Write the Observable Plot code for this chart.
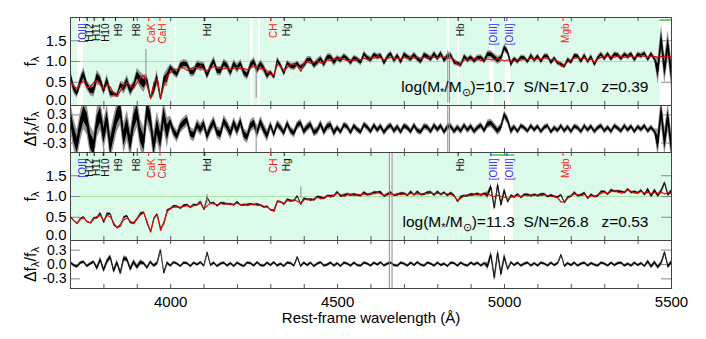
<!DOCTYPE html>
<html><head><meta charset="utf-8">
<script src="https://cdn.jsdelivr.net/npm/d3@7"></script>
<script src="https://cdn.jsdelivr.net/npm/@observablehq/plot@0.6"></script>
<style>
body{margin:0;background:#fff}
#chart{width:706px;height:339px;position:relative;overflow:hidden}
#chart svg{display:block}
</style>
</head><body><div id="chart"></div>
<script>
// ---------------- data ----------------
const lamStart = 3700, lamEnd = 5500, lamStep = 10;
const lam = d3.range(lamStart, lamEnd + 1, lamStep);

// galaxy 1 (z=0.39) best-fit model (red), sampled every 10 A
const model1 = [
0.52,0.40,0.35,0.48,0.52,0.36,0.40,0.50,0.55,0.42,
0.34,0.45,0.38,0.22,0.15,0.30,0.44,0.48,0.42,0.36,
0.50,0.62,0.66,0.40,0.10,0.50,0.58,0.12,0.42,0.66,
0.74,0.80,0.82,0.86,0.84,0.78,0.82,0.86,0.84,0.90,
0.80,0.78,0.84,0.88,0.84,0.86,0.82,0.85,0.80,0.84,
0.86,0.82,0.83,0.80,0.85,0.88,0.86,0.82,0.84,0.76,
0.68,0.70,0.93,0.88,0.78,0.86,0.92,0.96,0.88,0.76,
0.96,1.00,0.95,0.98,1.02,0.96,1.00,1.04,1.02,1.07,
1.05,1.10,1.04,1.02,1.05,1.02,1.06,1.04,1.08,1.05,
1.10,1.08,1.14,1.08,1.04,1.08,1.10,1.07,1.09,1.06,
1.10,1.08,1.12,1.08,1.10,1.07,1.10,1.08,1.12,1.10,
1.09,1.12,1.10,1.08,1.09,1.04,0.92,0.96,1.04,1.06,
1.04,1.07,1.06,1.02,1.05,1.06,1.04,1.05,1.08,1.04,
1.02,1.04,0.98,1.02,1.05,1.03,1.06,1.04,1.08,1.05,
1.07,1.06,1.09,1.06,1.04,1.05,1.00,0.88,0.92,1.00,
1.04,1.08,1.10,1.06,1.08,1.02,1.06,0.98,1.06,1.10,
1.12,1.14,1.12,1.10,1.14,1.12,1.10,1.14,1.12,1.10,
1.12,1.15,1.12,1.10,1.14,1.12,1.10,1.12,1.10,1.13,
1.12];
// galaxy 1 residuals (f_obs - f_model)/f_model
const resid1 = [
0.28,-0.10,-0.35,0.05,0.32,0.18,-0.25,-0.40,0.12,0.30,
-0.15,0.22,-0.38,-0.05,0.26,0.40,-0.20,0.08,-0.32,0.15,
0.35,-0.12,-0.30,0.42,0.20,-0.38,0.05,-0.25,0.30,-0.08,
0.14,-0.06,-0.16,0.04,0.12,0.18,-0.10,-0.14,0.08,-0.02,
0.10,-0.16,0.02,0.14,-0.08,-0.12,0.16,0.05,-0.10,0.12,
-0.04,0.15,-0.12,-0.18,0.06,0.12,-0.08,0.14,-0.02,-0.15,
0.08,-0.12,0.10,0.02,-0.09,0.11,-0.04,-0.10,0.07,0.12,
-0.06,0.03,0.09,-0.08,-0.04,0.10,-0.07,0.05,0.08,-0.09,
0.02,-0.07,0.08,0.04,-0.08,0.06,-0.02,-0.07,0.09,0.03,
-0.06,0.07,-0.03,0.05,-0.08,0.02,0.07,-0.05,0.04,-0.07,
0.06,0.02,-0.06,0.07,-0.04,-0.07,0.05,0.03,-0.06,0.07,
-0.02,0.06,-0.07,0.04,0.05,-0.06,0.03,-0.05,0.07,-0.03,
0.05,-0.06,0.02,0.07,-0.04,0.10,0.12,0.04,-0.05,0.03,
0.30,0.18,-0.05,0.04,-0.06,0.06,0.02,-0.05,0.06,-0.03,
0.05,-0.06,0.03,0.06,-0.07,0.02,-0.04,0.06,-0.05,0.04,
-0.06,0.05,0.02,-0.06,0.06,-0.03,0.05,-0.06,0.02,0.06,
-0.05,0.03,-0.06,0.06,0.01,-0.05,0.06,-0.03,0.05,-0.06,
0.04,-0.02,0.06,-0.05,0.03,-0.06,-0.30,0.38,-0.28,0.25,
-0.35];
// noise level (scatter) per wavelength segment
const noiseEdges1 = [3700,4000,4300,4500,4950,5030,5460,5500];
const noiseAmp1   = [0.32,0.13,0.09,0.07,0.09,0.06,0.30];

// galaxy 2 (z=0.53)
const model2 = [
0.50,0.42,0.36,0.45,0.48,0.40,0.36,0.46,0.52,0.54,
0.42,0.55,0.50,0.36,0.24,0.34,0.44,0.48,0.40,0.34,
0.48,0.56,0.60,0.38,0.14,0.48,0.56,0.18,0.40,0.64,
0.72,0.74,0.75,0.74,0.76,0.78,0.76,0.78,0.80,0.84,
0.70,0.78,0.84,0.82,0.80,0.83,0.81,0.84,0.80,0.82,
0.84,0.80,0.82,0.78,0.80,0.82,0.78,0.80,0.76,0.74,
0.68,0.64,0.90,0.86,0.84,0.90,0.88,0.92,0.88,0.84,
0.92,0.94,0.90,0.95,0.98,0.94,0.98,1.02,0.98,1.04,
1.08,1.04,1.00,1.04,1.06,1.02,1.05,1.04,1.06,1.03,
1.08,1.06,1.10,1.06,1.03,1.04,1.06,1.04,1.07,1.04,
1.06,1.05,1.08,1.05,1.07,1.05,1.08,1.06,1.09,1.06,
1.08,1.06,1.08,1.06,1.05,1.00,0.90,0.96,1.02,1.04,
1.02,1.05,1.03,1.06,1.04,1.07,1.02,1.00,1.03,1.00,
0.98,0.96,0.98,1.00,1.02,1.00,1.03,1.01,1.04,1.02,
1.04,1.02,1.04,1.02,1.00,1.01,0.96,0.86,0.88,0.96,
1.02,1.06,1.04,1.02,1.05,0.98,1.02,1.00,1.04,1.08,
1.10,1.08,1.12,1.14,1.10,1.08,1.12,1.16,1.12,1.08,
1.10,1.12,1.08,1.10,1.06,1.10,1.08,1.10,1.06,1.09,
1.08];
const resid2 = [
0.04,-0.02,-0.05,0.03,0.05,-0.04,0.01,0.05,-0.08,0.10,
-0.12,0.06,0.15,-0.14,0.04,-0.18,0.12,0.10,-0.10,0.05,
-0.06,0.04,0.02,-0.07,0.05,-0.03,0.02,0.30,-0.18,0.03,
-0.03,0.04,0.01,-0.04,0.03,0.02,-0.04,0.03,-0.01,0.04,
-0.03,0.25,-0.02,0.03,-0.04,0.01,0.03,-0.03,0.02,-0.04,
0.03,-0.01,-0.04,0.03,0.02,-0.03,0.04,-0.02,-0.03,0.03,
-0.02,0.04,-0.03,0.01,-0.04,0.03,0.02,-0.03,0.15,-0.04,
0.03,-0.02,0.03,-0.04,0.01,0.04,-0.03,-0.01,0.03,-0.03,
0.02,-0.04,0.03,0.01,-0.03,0.03,-0.02,-0.03,0.03,0.01,
-0.03,0.03,-0.01,0.04,-0.03,0.01,0.03,-0.02,-0.03,0.03,
0.01,-0.03,0.03,-0.02,0.04,-0.01,-0.03,0.03,0.01,-0.03,
0.03,-0.02,0.01,-0.04,0.03,0.02,-0.03,0.03,-0.01,-0.03,
0.03,-0.01,0.03,-0.03,0.02,-0.04,0.20,-0.28,0.24,-0.20,
0.16,-0.10,0.04,-0.02,0.03,-0.03,0.01,0.03,-0.03,0.02,
-0.03,0.03,0.01,-0.03,0.03,-0.02,0.02,0.20,-0.04,0.02,
-0.02,0.03,-0.03,0.01,0.03,-0.03,0.02,-0.01,-0.03,0.03,
0.01,-0.03,0.03,-0.02,0.02,0.03,-0.03,0.01,-0.03,0.03,
-0.02,0.02,-0.04,0.06,-0.05,0.04,-0.06,0.03,0.25,-0.05,
0.04];
const noiseEdges2 = [3700,3780,3920,4000,4950,5010,5430,5500];
const noiseAmp2   = [0.035,0.06,0.04,0.03,0.08,0.03,0.045];

// masked (white) wavelength ranges
const mask1 = [[3721,3739],[4013,4016],[4239,4247],[4263,4269],[4828,4835],[4861,4865],[4956,4969],[5003,5018],[5465,5500]];
const mask2 = [[4655,4665],[4958,5026]];
// flagged ranges drawn as green bars at flux 2.0
const flagLevel = 2.0;
const flag1 = [[5465,5500]];
const flag2 = [[4958,5030]];

// bad pixels / spikes: [lambda, low, high]
const spikes1 = [[3926,0.55,1.29],[4256,0.12,0.90],[4830,0.0,1.26],[4835,0.0,1.20]];
const rspikes1 = [[4256,-0.5,0.10],[4830,-0.5,0.5],[4835,-0.5,0.5]];
const spikes2 = [[4109,0.82,1.05],[4390,0.95,1.23],[4655,-0.06,2.06],[4663,-0.06,2.06]];
const rspikes2 = [[4655,-0.5,0.5],[4663,-0.5,0.5]];

// spectral features
const featName = ["[OII]","H12","H11","H10","H9","H8","CaK","CaH","Hd","CH","Hg","Hb","[OIII]","[OIII]","Mgb"];
const featLam  = [3727,3750,3771,3798,3835,3889,3934,3968,4102,4300,4340,4861,4959,5007,5175];
const featKind = ["em","H","H","H","H","H","m","m","H","m","H","H","em","em","m"];
const kindColor = {em:"#2a2aff", H:"#111", m:"#ff1a1a"};

// annotation values
const massLabel = ["10.7","11.3"];
const snLabel = ["17.0","26.8"];
const zLabel = ["0.39","0.53"];

// axes
const xMinorTicks = [3800,3900,4000,4100,4200,4300,4400,4500,4600,4700,4800,4900,5000,5100,5200,5300,5400];
const xTickLabels = [4000,4500,5000,5500];
const specTicks = [0.5,1.0,1.5];
const specTickLabels = [0.0,0.5,1.0,1.5];
const resTicks = [-0.3,0.0,0.3];
const xTitle = "Rest-frame wavelength (Å)";

// ---------------- drawing ----------------
const W = 706, ML = 70, MR = 35, PW = W - ML - MR;
const FONT = "'Liberation Sans', Arial, Helvetica, sans-serif";
const bgGreen = "#dcfbeb";
const feats = featName.map((n,i)=>({name:n, lam:featLam[i], kind:featKind[i]}));
const fmt1 = d => d.toFixed(1);

function ampAt(l, edges, amps){
  let i = d3.bisectRight(edges, l) - 1;
  return amps[Math.max(0, Math.min(amps.length-1, i))];
}
function frameTicks(H, yT){
  return [
    Plot.tickY(yT, {y:d=>d, insetRight: PW-10, stroke:"#888"}),
    Plot.tickY(yT, {y:d=>d, insetLeft: PW-10, stroke:"#888"}),
    Plot.tickX(xMinorTicks, {x:d=>d, insetBottom: H-4, stroke:"#555"}),
    Plot.tickX(xMinorTicks, {x:d=>d, insetTop: H-4, stroke:"#555"})
  ];
}
function basePlot(height, mt, mb, yDomain, marks, xAxis){
  return Plot.plot({
    width: W, height, marginLeft: ML, marginRight: MR, marginTop: mt, marginBottom: mb,
    x: {domain:[lamStart, lamEnd], axis: xAxis ? undefined : null},
    y: {domain: yDomain, axis: null},
    style: {background:"transparent", overflow:"visible", fontFamily: FONT, fontSize:"15px", color:"black"},
    marks
  });
}

function spectrumPanel(k, model, resid, edges, amps, masks, flags, spikes, height, mt, mb){
  const H = height - mt - mb;
  const rows = lam.map((l,i)=>{
    const a = ampAt(l, edges, amps), m = model[i], r = resid[i];
    return {lam:l, model:m, obs:m*(1+r), gLo:m*(1+r-a), gHi:m*(1+r+a), bLo:m*(1+r-0.5*a), bHi:m*(1+r+0.5*a)};
  });
  const ann = `log(M_{*}/M_{⊙})=${massLabel[k]}  S/N=${snLabel[k]}   z=${zLabel[k]}`;
  const marks = [
    Plot.frame({fill: bgGreen, stroke:null}),
    Plot.rect(masks, {x1:d=>d[0], x2:d=>d[1], fill:"white"}),
    Plot.ruleY([1], {stroke:"#a6e9a6"}),
    ...frameTicks(H, specTicks),
    Plot.ruleY(flags, {y:()=>flagLevel, x1:d=>d[0], x2:d=>d[1], stroke:"#33cc33", strokeWidth:1.5}),
    Plot.areaY(rows, {x:"lam", y1:"gLo", y2:"gHi", fill:"#939393", clip:true}),
    Plot.areaY(rows, {x:"lam", y1:"bLo", y2:"bHi", fill:"#000", clip:true}),
    Plot.lineY(rows, {x:"lam", y:"obs", stroke:"#000", strokeWidth:0.7, clip:true}),
    Plot.ruleX(spikes, {x:d=>d[0], y1:d=>d[1], y2:d=>d[2], stroke:"#8a8a8a", clip:true}),
    Plot.lineY(rows, {x:"lam", y:"model", stroke:"#e80000", strokeWidth:1.1, clip:true}),
    Plot.frame({stroke:"#444"}),
    ...Object.keys(kindColor).map(kd => Plot.tickX(feats.filter(f=>f.kind===kd), {x:"lam", insetBottom: H-4, stroke: kindColor[kd]})),
    ...Object.keys(kindColor).map(kd => Plot.text(feats.filter(f=>f.kind===kd), {x:"lam", text:"name", frameAnchor:"top", rotate:-90, textAnchor:"end", dy:6, dx:-1, fontSize:10, fill: kindColor[kd]})),
    Plot.text([ann], {text:d=>d, frameAnchor:"bottom-right", textAnchor:"end", lineAnchor:"middle", dx:-23, dy:-18, fontSize:15.5}),
    Plot.text(specTickLabels.filter(d=>d!==0), {y:d=>d, text:fmt1, frameAnchor:"left", textAnchor:"end", dx:-4, fontSize:15}),
    Plot.text(specTickLabels.filter(d=>d===0), {y:d=>d, text:fmt1, frameAnchor:"left", textAnchor:"end", dx:-4, dy:-3, fontSize:15}),
    Plot.text(["f_{λ}"], {text:d=>d, frameAnchor:"left", textAnchor:"middle", lineAnchor:"middle", rotate:-90, dx:-40, fontSize:16})
  ];
  return basePlot(height, mt, mb, [-0.06, 2.06], marks, false);
}

function residPanel(resid, edges, amps, spikes, height, mt, mb, withX){
  const H = height - mt - mb;
  const rows = lam.map((l,i)=>{
    const a = ampAt(l, edges, amps), r = resid[i];
    return {lam:l, r, gLo:r-a, gHi:r+a, bLo:r-0.5*a, bHi:r+0.5*a};
  });
  const marks = [
    ...frameTicks(H, resTicks),
    Plot.areaY(rows, {x:"lam", y1:"gLo", y2:"gHi", fill:"#939393", clip:true}),
    Plot.areaY(rows, {x:"lam", y1:"bLo", y2:"bHi", fill:"#000", clip:true}),
    Plot.lineY(rows, {x:"lam", y:"r", stroke:"#000", strokeWidth:0.7, clip:true}),
    Plot.ruleX(spikes, {x:d=>d[0], y1:d=>d[1], y2:d=>d[2], stroke:"#8a8a8a", clip:true}),
    Plot.frame({stroke:"#444"}),
    Plot.text(resTicks, {y:d=>d, text:fmt1, frameAnchor:"left", textAnchor:"end", dx:-4, fontSize:14}),
    Plot.text(["Δf_{λ}/f_{λ}"], {text:d=>d, frameAnchor:"left", textAnchor:"middle", lineAnchor:"middle", rotate:-90, dx:-40, fontSize:16})
  ];
  if (withX) {
    marks.push(Plot.axisX(xTickLabels, {tickSize:0, tickPadding:8, tickFormat:d=>String(d), fontSize:15, label:null}));
    marks.push(Plot.text([xTitle], {text:d=>d, frameAnchor:"bottom", lineAnchor:"middle", dy:30, fontSize:15}));
  }
  return basePlot(height, mt, mb, [-0.5, 0.5], marks, withX);
}

function richify(svg){
  const ns = "http://www.w3.org/2000/svg";
  svg.querySelectorAll("text").forEach(t=>{
    const s = t.textContent;
    t.setAttribute("xml:space","preserve");
    t.style.whiteSpace = "pre";
    if (!s.includes("_{")) return;
    const parts = s.split(/_\{([^}]*)\}/);
    while (t.firstChild) t.removeChild(t.firstChild);
    let shifted = false;
    parts.forEach((p,i)=>{
      if (p === "") return;
      const ts = document.createElementNS(ns, "tspan");
      ts.textContent = p;
      if (i % 2 === 1) { ts.setAttribute("font-size","70%"); ts.setAttribute("dy","0.3em"); shifted = true; }
      else if (shifted) { ts.setAttribute("dy","-0.21em"); shifted = false; }
      t.appendChild(ts);
    });
  });
}

const chart = document.getElementById("chart");
const panels = [
  spectrumPanel(0, model1, resid1, noiseEdges1, noiseAmp1, mask1, flag1, spikes1, 105, 17, 0),
  residPanel(resid1, noiseEdges1, noiseAmp1, rspikes1, 47, 0, 0, false),
  spectrumPanel(1, model2, resid2, noiseEdges2, noiseAmp2, mask2, flag2, spikes2, 88, 0, 0),
  residPanel(resid2, noiseEdges2, noiseAmp2, rspikes2, 99, 0, 51, true)
];
panels.forEach(p=>{ richify(p); chart.appendChild(p); });
</script>
</body></html>
